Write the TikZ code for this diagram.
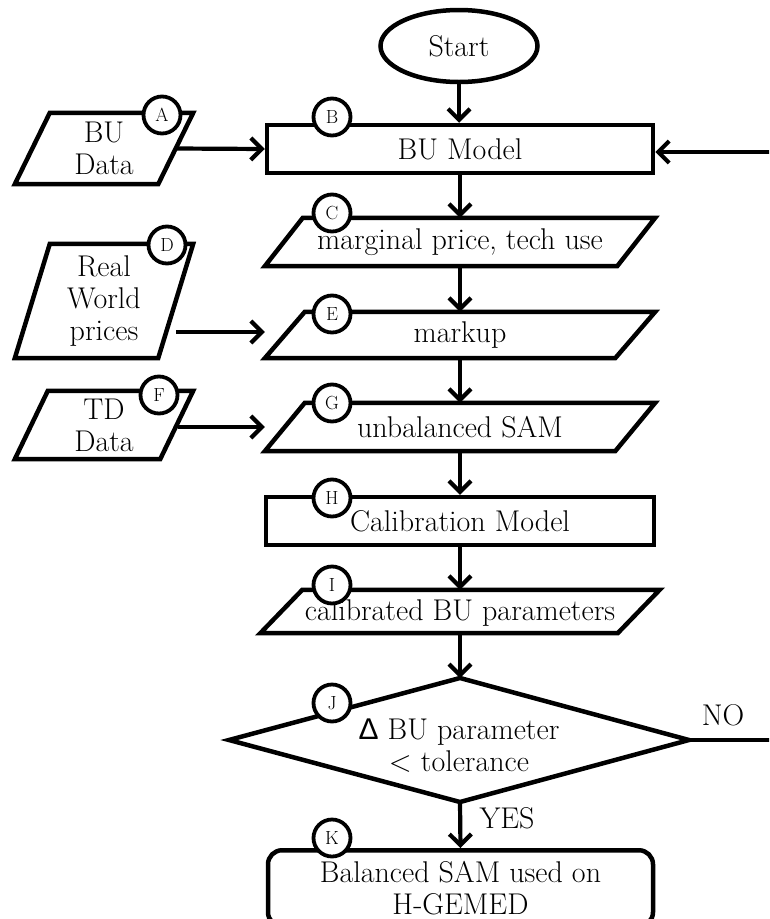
\documentclass[tikz,border=0pt]{standalone}
\usepackage{fontspec}
\newfontfamily\deltafont{Liberation Sans}
\usetikzlibrary{arrows.meta,shapes.geometric,calc}
\tikzset{
  base/.style={font=\fontsize{30}{32}\selectfont, inner sep=0pt, align=center},
  boxshape/.style={base, draw, line width=4.5pt, rectangle},
  iohold/.style={base},
  outline/.style={line width=4.5pt, line join=miter},
  tag/.style={circle, draw, fill=white, line width=3.8pt, minimum size=37pt,
    inner sep=0pt, font=\fontsize{19}{19}\selectfont},
  arr/.style={line width=4.2pt, -{Straight Barb[length=11pt,width=22pt]}},
  plain/.style={line width=4.2pt},
}
% parallelogram outline drawn on the anchors of a rectangular holder node
\newcommand\ioshape[2]{\draw[outline] ([xshift=#2]#1.north west) -- (#1.north east)
  -- ([xshift=-#2]#1.south east) -- (#1.south west) -- cycle;}
\begin{document}
\begin{tikzpicture}[x=1pt,y=-1pt]
\useasboundingbox (0,0) rectangle (769,919);
\clip (0,0) rectangle (769,919);

% main column
\node[base, ellipse, draw, line width=4.5pt, minimum width=157pt, minimum height=72pt] (S) at (459,46) {Start};
\node[boxshape, minimum width=386pt, minimum height=48pt] (B) at (460,149) {BU Model};
\node[iohold, minimum width=390pt, minimum height=48pt] (C) at (460,242) {\raisebox{-3pt}{marginal price, tech use}};
\node[iohold, minimum width=390pt, minimum height=46pt] (E) at (460,335) {markup};
\node[iohold, minimum width=390pt, minimum height=48pt] (G) at (460,427) {unbalanced SAM};
\node[boxshape, minimum width=388pt, minimum height=48pt] (H) at (460,521) {Calibration Model};
\node[iohold, minimum width=399pt, minimum height=43pt] (I) at (460,611.5) {\strut\raisebox{-3pt}{calibrated BU parameters}};
\ioshape{C}{38pt}
\ioshape{E}{40pt}
\ioshape{G}{40pt}
\ioshape{I}{42pt}

% decision
\node[base] (J) at (459,746) {{\deltafont Δ} BU parameter\\< tolerance};
\coordinate (Jn) at (460,678);
\coordinate (Js) at (460,802);
\coordinate (Jw) at (229,740);
\coordinate (Je) at (689,740);
\draw[outline] (Jn) -- (Je) -- (Js) -- (Jw) -- cycle;

\node[base, draw, rounded corners=14pt, line width=4.5pt, minimum width=385pt,
  minimum height=76pt, anchor=north] (K) at (460.5,848) {Balanced SAM used on\\H-GEMED};

% input data
\node[iohold, minimum width=178pt, minimum height=71pt] (A) at (104,148.5) {BU\\Data};
\node[iohold, minimum width=178pt, minimum height=114pt] (D) at (104,301) {Real\\World\\prices};
\node[iohold, minimum width=178pt, minimum height=68pt] (F) at (104,425) {TD\\Data};
\ioshape{A}{35pt}
\ioshape{D}{35pt}
\ioshape{F}{33pt}

% connectors
\draw[arr] (S.south) -- (S.south |- B.north);
\draw[arr] (B.south) -- (C.north);
\draw[arr] (C.south) -- (E.north);
\draw[arr] (E.south) -- (G.north);
\draw[arr] (G.south) -- (H.north);
\draw[arr] (H.south) -- (I.north);
\draw[arr] (I.south) -- (Jn);
\draw[arr] (Js) -- (K.north);

\draw[arr] ([xshift=-17pt]A.east) -- (B.west);
\coordinate (dOut) at (176,332);
\draw[arr] (dOut) -- (dOut -| E.west);
\coordinate (fOut) at (178,427);
\draw[arr] (fOut) -- (fOut -| G.west);

\coordinate (back) at (775,152);
\draw[arr] (back) -- (back -| B.east);
\coordinate (noEnd) at (775,740);
\draw[plain] (Je) -- (noEnd);
\node[base] (no) at (723,715) {NO};
\node[base] (yes) at (507,818) {YES};

% letter tags
\node[tag] (tA) at (162,115) {A};
\node[tag] (tB) at (332,117) {B};
\node[tag] (tC) at (332,213) {C};
\node[tag] (tD) at (167,245) {D};
\node[tag] (tE) at (332,314) {E};
\node[tag] (tF) at (159,395) {F};
\node[tag] (tG) at (332,403) {G};
\node[tag] (tH) at (332,498) {H};
\node[tag] (tI) at (332,585) {I};
\node[tag] (tJ) at (332,703) {J};
\node[tag] (tK) at (332,838) {K};
\end{tikzpicture}
\end{document}
